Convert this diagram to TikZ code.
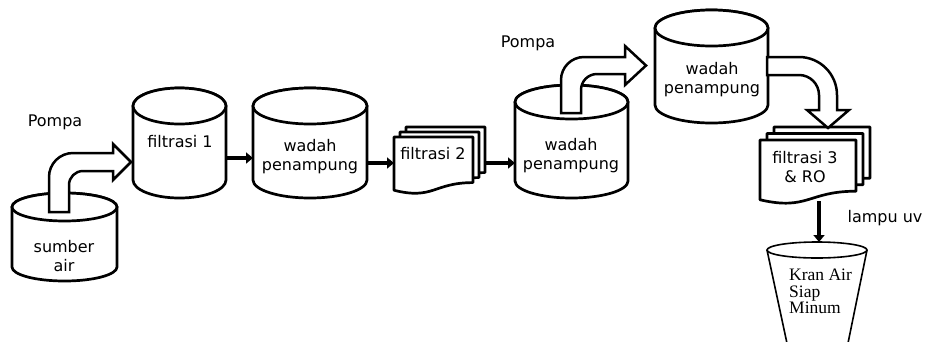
\documentclass[tikz,border=0pt]{standalone}
\usepackage{fontspec}
\setmainfont{DejaVu Sans}
\newfontfamily\cupfont{Liberation Serif}
\usetikzlibrary{arrows.meta,calc}
\newcommand\drawcyl[5]{% left right top bottom ry
  \pgfmathsetmacro\cylcx{(#1+#2)/2}%
  \pgfmathsetmacro\cylrx{(#2-#1)/2}%
  \draw[shp] (#1,#3+#5) -- (#1,#4-#5) arc[start angle=180,end angle=360,x radius=\cylrx pt,y radius=#5pt] -- (#2,#3+#5) arc[start angle=0,end angle=180,x radius=\cylrx pt,y radius=#5pt] -- cycle;
  \draw[shp] (\cylcx,#3+#5) ellipse[x radius=\cylrx pt,y radius=#5pt];
}
\newcommand\docpath[4]{% left top width height
  \draw[shp] (#1,#2) -- (#1+#3,#2) -- (#1+#3,#2+0.8*#4) .. controls (#1+0.5*#3,#2+0.8*#4) and (#1+0.5*#3,#2+1.107*#4) .. (#1,#2+0.934*#4) -- cycle;
}
\begin{document}
\begin{tikzpicture}[x=1pt,y=-1pt,
  shp/.style={draw=black,line width=2.7pt,fill=white,line join=round},
  blockarrow/.style={draw=black,line width=2.5pt,fill=white,line join=miter},
  ph/.style={inner sep=0pt,outer sep=0pt,draw=none},
  flow/.style={line width=3.6pt,-{Triangle[length=7pt,width=11pt]}},
  lbl/.style={font=\fontsize{16}{19}\selectfont,inner sep=0pt,align=center},
  cuplbl/.style={font=\cupfont\fontsize{17.5}{16.5}\selectfont,inner sep=0pt,align=left},
  cupline/.style={draw=black,line width=1.6pt}]
\useasboundingbox[fill=white] (0,0) rectangle (926,341);

% placeholder nodes for the shapes
\node[ph,minimum width=105,minimum height=88] (sa) at (64.5,237) {};
\node[ph,minimum width=93,minimum height=110] (f1) at (179.5,143) {};
\node[ph,minimum width=114,minimum height=110] (w1) at (310,143) {};
\node[ph,minimum width=79,minimum height=52] (f2) at (433.5,163) {};
\node[ph,minimum width=113,minimum height=113] (w2) at (571.5,141.5) {};
\node[ph,minimum width=113,minimum height=113] (w3) at (711.5,66.5) {};
\node[ph,minimum width=96,minimum height=60] (f3) at (808,170) {};
\node[ph,minimum width=100,minimum height=99] (cup) at (817,291.5) {};

% cylinders
\drawcyl{12}{117}{193}{281}{14}
\drawcyl{133}{226}{88}{198}{18}
\drawcyl{253}{367}{88}{198}{18}
\drawcyl{515}{628}{85}{198}{17}
\drawcyl{655}{768}{10}{123}{18}

% multi documents
\docpath{406}{127}{79}{57}
\docpath{400}{132}{79}{57}
\docpath{394}{137}{79}{57}
\docpath{774}{127}{96}{64}
\docpath{767}{133.5}{96}{64}
\docpath{760}{140}{96}{64}

% block arrows (pumps)
\draw[blockarrow] (49,212) -- (49,177) arc[start angle=180,end angle=90,radius=24pt]
  -- (113,153) -- (113,144) -- (131,162) -- (113,180) -- (113,171) -- (83,171)
  arc[start angle=90,end angle=180,radius=14pt] -- (69,212) -- cycle;
\draw[blockarrow] (561,113) -- (561,80) arc[start angle=180,end angle=90,radius=23pt]
  -- (625,57) -- (625,46) -- (646,65.5) -- (625,85) -- (625,74) -- (597,74)
  arc[start angle=90,end angle=180,radius=16pt] -- (581,113) -- cycle;
\draw[blockarrow] (767,57) -- (799,57) arc[start angle=90,end angle=0,radius=38pt]
  -- (837,110) -- (849,110) -- (828,128) -- (807,110) -- (819,110) -- (819,95)
  arc[start angle=0,end angle=90,radius=20pt] -- (767,75) -- cycle;

% cup
\draw[cupline] (767,250) -- (788,348) -- (847,348) -- (867,250);
\draw[cupline] (817,250) ellipse[x radius=50pt,y radius=8pt];

% straight connectors
\draw[flow] ([yshift=-15pt]f1.east) -- ([yshift=-15pt]w1.west);
\draw[flow] ([yshift=-20pt]w1.east) -- (f2.west);
\draw[flow] ([xshift=12pt]f2.east) -- ([yshift=-21.5pt]w2.west);
\draw[flow] ([xshift=11pt,yshift=-1pt]f3.south) -- ([xshift=2pt]cup.north);

% labels
\node[lbl] (p1) at (55,122) {Pompa};
\node[lbl] (tsa) at (64,256) {sumber\\air};
\node[lbl] (tf1) at (180,142) {filtrasi 1};
\node[lbl] (tw1) at (310,157) {wadah\\penampung};
\node[lbl] (tf2) at (433,154) {filtrasi 2};
\node[lbl] (p2) at (528,43) {Pompa};
\node[lbl] (tw2) at (571,156) {wadah\\penampung};
\node[lbl] (tw3) at (712,80) {wadah\\penampung};
\node[lbl] (tf3) at (805,167) {filtrasi 3\\\& RO};
\node[lbl] (uv) at (885,218) {lampu uv};
\node[cuplbl,anchor=north west] (kr) at (789,269) {Kran Air\\Siap\\Minum};
\end{tikzpicture}
\end{document}
